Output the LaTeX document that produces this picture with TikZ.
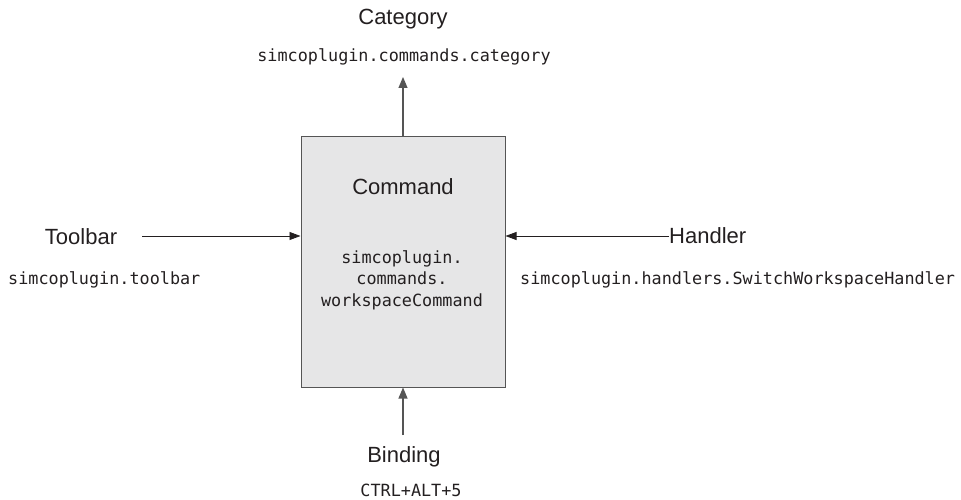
\documentclass[tikz,border=0pt]{standalone}
\usepackage{fontspec}
\setmainfont{Liberation Sans}
\setmonofont{DejaVu Sans Mono}
\usetikzlibrary{arrows.meta}
\definecolor{boxfill}{HTML}{E6E6E7}
\definecolor{boxline}{HTML}{555555}
\definecolor{ink}{HTML}{231F20}
\tikzset{
  x=1pt, y=-1pt,
  label/.style={inner sep=0pt, text=ink, font=\fontsize{22}{26}\selectfont},
  code/.style={inner sep=0pt, text=ink, font=\ttfamily\fontsize{16.8}{21.5}\selectfont, align=center},
  cmdbox/.style={draw=boxline, fill=boxfill, line width=1pt, minimum width=204pt, minimum height=250pt, inner sep=0pt},
  grayarrow/.style={draw=boxline, line width=1.2pt, -{Triangle[length=11pt,width=9pt]}},
  blackarrow/.style={draw=ink, line width=0.8pt, -{Triangle[length=11pt,width=8pt]}},
}
\begin{document}
\begin{tikzpicture}
\useasboundingbox (0,0) rectangle (961,500);
% central command box
\node[cmdbox] (cmd) at (403,262) {};
\node[label] (cmdtitle) at (403,187) {Command};
\node[code] (cmdid) at (402,280) {simcoplugin.\\commands.\\workspaceCommand};
% category (above)
\node[label] (cat) at (403,19) {Category};
\node[code] (catid) at (404,57) {simcoplugin.commands.category};
\coordinate (catend) at (403,77);
% toolbar (left)
\node[label] (tb) at (81,237) {Toolbar};
\node[code, anchor=west] (tbid) at (8,280) {simcoplugin.toolbar};
\coordinate (tbstart) at (142,236);
% handler (right)
\node[label, anchor=west] (hd) at (669,236) {Handler};
\node[code, anchor=west] (hdid) at (520,280) {simcoplugin.handlers.SwitchWorkspaceHandler};
% binding (below)
\node[label] (bd) at (404,457) {Binding};
\node[code] (bdid) at (411,490) {CTRL+ALT+5};
\coordinate (bdstart) at (403,435);
% connectors
\draw[grayarrow] (cmd.north) -- (catend);
\draw[grayarrow] (bdstart) -- (cmd.south);
\draw[blackarrow] (tbstart) -- (cmd.west |- tbstart);
\draw[blackarrow] (hd.west) -- (cmd.east |- hd.west);
\end{tikzpicture}
\end{document}
